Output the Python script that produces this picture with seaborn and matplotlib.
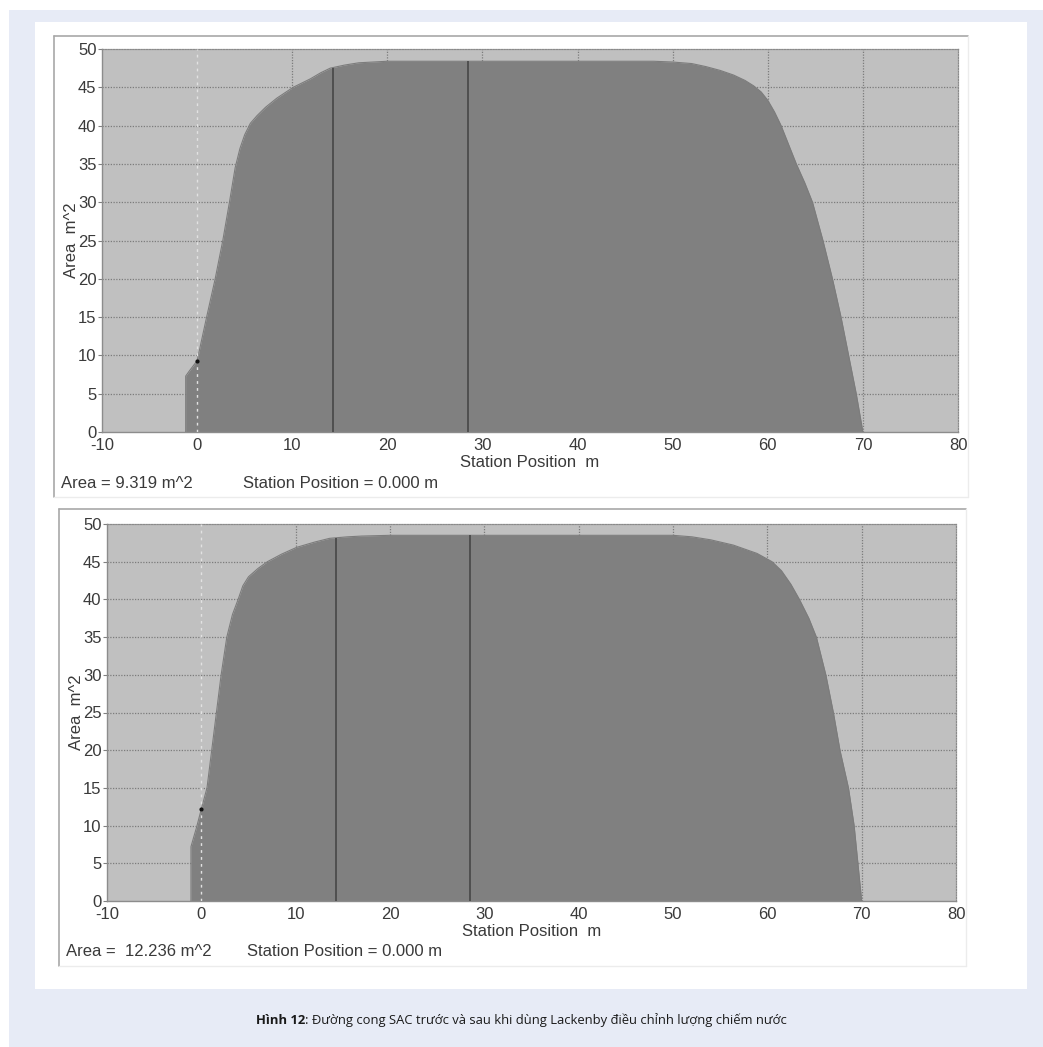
import numpy as np
import pandas as pd
import matplotlib
matplotlib.use("Agg")
import matplotlib.pyplot as plt
from matplotlib.patches import Rectangle
from matplotlib.lines import Line2D
import seaborn as sns

# ---- data: sectional area curves (station in m, area in m^2) ----
before_station = [-1.2, -1.2, -0.8, 0.0, 1.0, 1.9, 2.7, 3.4, 4.0, 4.5, 5.0, 5.6, 6.3,
                  7.2, 8.4, 10.1, 11.9, 13.0, 14.0, 15.5, 17.0, 20.0, 30.0, 40.0,
                  48.0, 50.0, 52.0, 53.5, 55.0, 56.4, 57.6, 58.5, 59.3, 60.0, 60.7,
                  61.4, 62.2, 63.0, 63.9, 64.7, 65.8, 66.8, 67.7, 68.5, 69.3, 70.0]
before_area = [0.0, 7.3, 8.0, 9.3, 15.0, 20.0, 25.0, 30.0, 34.5, 37.0, 38.8, 40.3, 41.3,
               42.4, 43.6, 45.0, 46.1, 46.9, 47.5, 47.9, 48.2, 48.4, 48.4, 48.4,
               48.4, 48.3, 48.1, 47.7, 47.2, 46.6, 45.9, 45.2, 44.4, 43.3, 41.8,
               40.0, 37.5, 35.0, 32.5, 30.0, 25.0, 20.0, 15.0, 10.0, 5.0, 0.0]

after_station = [-1.1, -1.1, -0.5, 0.0, 0.6, 1.1, 1.6, 2.1, 2.7, 3.3, 3.9, 4.4, 5.0,
                 6.0, 7.0, 8.5, 10.1, 12.0, 13.6, 15.5, 17.0, 20.0, 30.0, 40.0, 50.0,
                 52.0, 54.0, 56.4, 58.9, 60.5, 61.5, 62.5, 63.4, 64.4, 65.2, 66.2,
                 67.0, 67.7, 68.6, 69.2, 69.6, 70.0]
after_area = [0.0, 7.2, 9.8, 12.2, 15.0, 20.0, 25.0, 30.0, 35.0, 38.0, 40.0, 41.8, 43.0,
              44.1, 45.0, 46.0, 46.9, 47.6, 48.1, 48.3, 48.4, 48.5, 48.5, 48.5, 48.5,
              48.3, 47.9, 47.2, 46.1, 45.0, 43.8, 42.0, 40.0, 37.5, 35.0, 30.0,
              25.0, 20.0, 15.0, 10.0, 5.0, 0.0]

marker_stations = [14.3, 28.5]          # dark vertical markers inside the curve
cursor_station = 0.0                    # current station position
area_readouts = ["Area = 9.319 m^2", "Area =  12.236 m^2"]
position_readout = "Station Position = 0.000 m"

x_ticks = list(range(-10, 81, 10))
y_ticks = list(range(0, 51, 5))

caption_bold = "Hình 12"
caption_rest = ": Đường cong SAC trước và sau khi dùng Lackenby điều chỉnh lượng chiếm nước"

# ---- styling ----
sns.set_theme(style="white")
plt.rcParams["font.family"] = ["Liberation Sans", "DejaVu Sans"]
plt.rcParams["axes.unicode_minus"] = False

FS = 12
TXT = "#3a3a3a"
W, H = 1043, 1047
fig = plt.figure(figsize=(W / 100, H / 100), dpi=100)
fig.patch.set_facecolor("white")


def fx(px):
    return px / W


def fy(py):
    return 1 - py / H


def rect(x0, y0, x1, y1):
    return [fx(x0), fy(y1), (x1 - x0) / W, (y1 - y0) / H]


# page background and white card
fig.patches.append(Rectangle((fx(9), 0), 1 - fx(9), fy(10), transform=fig.transFigure,
                             facecolor="#e7ebf6", edgecolor="none", zorder=-10))
fig.patches.append(Rectangle((fx(35), fy(989)), fx(1027) - fx(35), fy(22) - fy(989),
                             transform=fig.transFigure, facecolor="white",
                             edgecolor="none", zorder=-9))


def panel_frame(x0, y0, x1, y1):
    dark = "#a8a8a8"
    light = "#ececec"
    fig.add_artist(Line2D([fx(x0), fx(x1)], [fy(y0), fy(y0)], color=dark, lw=1.2,
                          transform=fig.transFigure))
    fig.add_artist(Line2D([fx(x0), fx(x0)], [fy(y0), fy(y1)], color=dark, lw=1.2,
                          transform=fig.transFigure))
    fig.add_artist(Line2D([fx(x0), fx(x1)], [fy(y1), fy(y1)], color=light, lw=1.0,
                          transform=fig.transFigure))
    fig.add_artist(Line2D([fx(x1), fx(x1)], [fy(y0), fy(y1)], color=light, lw=1.0,
                          transform=fig.transFigure))


def draw_curve(ax, stations, areas, readout, text_y, text_x0, text_x1):
    df = pd.DataFrame({"station": stations, "area": areas})
    ax.set_facecolor("#c0c0c0")
    ax.set_xlim(-10, 80)
    ax.set_ylim(0, 50)

    # dotted grid, behind the filled curve
    for xv in x_ticks[2:-1]:
        ax.axvline(xv, color="#7c7c7c", lw=0.9, ls=(0, (1, 1.2)), zorder=1)
    for yv in y_ticks[1:-1]:
        ax.axhline(yv, color="#7c7c7c", lw=0.9, ls=(0, (1, 1.2)), zorder=1)

    ax.fill_between(df["station"], 0, df["area"], color="#808080", lw=0, zorder=2)
    sns.lineplot(data=df, x="station", y="area", sort=False, color="#7c7c7c",
                 lw=0.8, ax=ax, zorder=3, estimator=None)

    # section markers
    for s in marker_stations:
        top = np.interp(s, df["station"][2:], df["area"][2:])
        ax.vlines(s, 0, top, color="#4f4f4f", lw=1.4, zorder=4)

    # cursor line at the current station
    ax.axvline(cursor_station, color="#e2e2e2", lw=1.0, ls=(0, (2, 3)), zorder=5)
    cur = np.interp(cursor_station, df["station"][2:], df["area"][2:])
    ax.plot([cursor_station], [cur], marker="o", ms=2.0, color="#111111", zorder=6)

    ax.set_xticks(x_ticks)
    ax.set_yticks(y_ticks)
    ax.tick_params(axis="x", length=0, pad=4, labelsize=FS, labelcolor=TXT)
    ax.tick_params(axis="y", length=3, width=0.8, color="#808080", pad=1,
                   labelsize=FS, labelcolor=TXT, left=True)
    for side in ["left", "bottom"]:
        ax.spines[side].set_color("#8c8c8c")
        ax.spines[side].set_linewidth(1.0)
    for side in ["top", "right"]:
        ax.spines[side].set_color("#8a8a8a")
        ax.spines[side].set_linewidth(0.9)
        ax.spines[side].set_linestyle((0, (1, 1.2)))

    ax.set_xlabel("Station Position  m", fontsize=FS, color=TXT, labelpad=2)
    ax.set_ylabel("Area  m^2", fontsize=FS, color=TXT, labelpad=-1)

    fig.text(fx(text_x0), fy(text_y), readout, fontsize=FS, color=TXT,
             ha="left", va="center")
    fig.text(fx(text_x1), fy(text_y), position_readout, fontsize=FS, color=TXT,
             ha="left", va="center")


panel_frame(54, 36, 968, 497)
panel_frame(59, 509, 966, 966)

ax1 = fig.add_axes(rect(102, 49, 958, 432))
draw_curve(ax1, before_station, before_area, area_readouts[0], 483, 61, 243)

ax2 = fig.add_axes(rect(107, 524, 956, 901))
draw_curve(ax2, after_station, after_area, area_readouts[1], 952, 66, 247)

# caption with bold figure number
cap_font = ["Open Sans", "DejaVu Sans"]
cy = fy(1020)
t1 = fig.text(0, cy, caption_bold, fontsize=9.4, weight="bold", family=cap_font,
              color="#1a1a1a", ha="left", va="center")
t2 = fig.text(0, cy, caption_rest, fontsize=9.4, family=cap_font, color="#1a1a1a",
              ha="left", va="center")
renderer = fig.canvas.get_renderer()
w1 = t1.get_window_extent(renderer).width
w2 = t2.get_window_extent(renderer).width
start = 521 - (w1 + w2) / 2
t1.set_x(fx(start))
t2.set_x(fx(start + w1))

fig.savefig("out.png", dpi=100)
